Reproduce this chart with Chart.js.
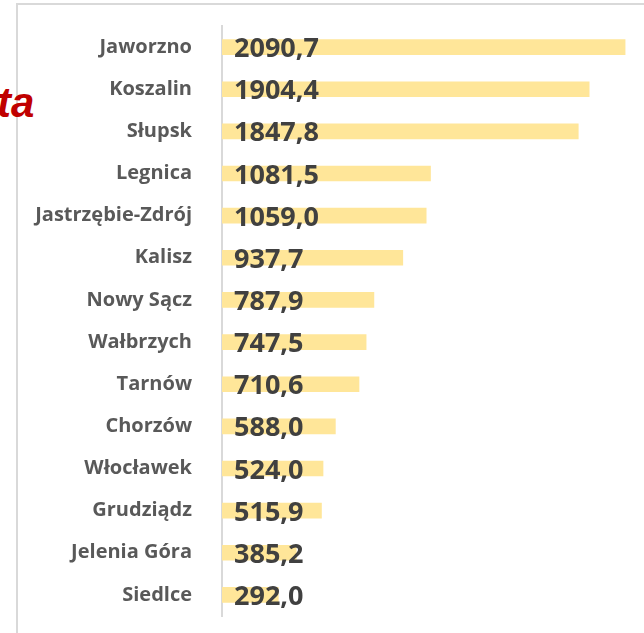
<!DOCTYPE html>
<html>
<head>
<meta charset="utf-8">
<script src="https://cdn.jsdelivr.net/npm/chart.js@4/dist/chart.umd.min.js"></script>
<style>
    body { margin: 0; background: #fff; overflow: hidden; }
    #wrap { position: relative; width: 644px; height: 633px; }
    #frame {
        position: absolute; left: 16px; top: 3px; right: -4px; bottom: -4px;
        border-left: 2px solid #d9d9d9; border-top: 2px solid #d9d9d9;
    }
    #title {
        position: absolute; left: -3px; top: 82px;
        font: italic bold 42px "Liberation Sans", Arial, sans-serif;
        line-height: 42px; color: #c00000; white-space: nowrap;
    }
    canvas { position: absolute; left: 0; top: 0; }
</style>
</head>
<body>
<div id="wrap">
    <div id="frame"></div>
    <span id="title">ta</span>
    <canvas id="chart_container" width="644" height="633"></canvas>
</div>
<script>
const cities = ['Jaworzno', 'Koszalin', 'Słupsk', 'Legnica', 'Jastrzębie-Zdrój', 'Kalisz',
    'Nowy Sącz', 'Wałbrzych', 'Tarnów', 'Chorzów', 'Włocławek', 'Grudziądz', 'Jelenia Góra', 'Siedlce']
const values = [2090.7, 1904.4, 1847.8, 1081.5, 1059.0, 937.7, 787.9, 747.5, 710.6, 588.0, 524.0, 515.9, 385.2, 292.0]

const formatValue = v => v.toFixed(1).replace('.', ',')

// values written on top of the bars
const valueLabels = {
    id: 'valueLabels',
    afterDatasetsDraw(chart) {
        const ctx = chart.ctx
        const meta = chart.getDatasetMeta(0)
        ctx.save()
        ctx.font = 'bold 27px "Open Sans", sans-serif'
        ctx.fillStyle = '#404040'
        ctx.textAlign = 'left'
        ctx.textBaseline = 'alphabetic'
        meta.data.forEach((bar, i) => {
            ctx.fillText(formatValue(values[i]), bar.base + 12, bar.y + 10)
        })
        ctx.restore()
    }
}

new Chart(document.getElementById('chart_container'), {
    type: 'bar',
    data: {
        labels: cities,
        datasets: [{
            data: values,
            backgroundColor: '#ffe699',
            borderWidth: 0,
            barThickness: 15
        }]
    },
    options: {
        indexAxis: 'y',
        responsive: false,
        animation: false,
        layout: { padding: { left: 0, right: 4, top: 26, bottom: 17 } },
        plugins: {
            legend: { display: false },
            tooltip: { enabled: false }
        },
        scales: {
            x: {
                display: false,
                min: 0,
                max: 2168
            },
            y: {
                afterFit: axis => {
                    axis.width = 222
                    axis.paddingTop = 0
                    axis.paddingBottom = 0
                },
                grid: { display: false, drawTicks: false },
                border: { display: true, color: '#d9d9d9', width: 2 },
                ticks: {
                    padding: 30,
                    color: '#595959',
                    font: { family: '"Open Sans", sans-serif', size: 20, weight: 'bold' }
                }
            }
        }
    },
    plugins: [valueLabels]
})
</script>
</body>
</html>
